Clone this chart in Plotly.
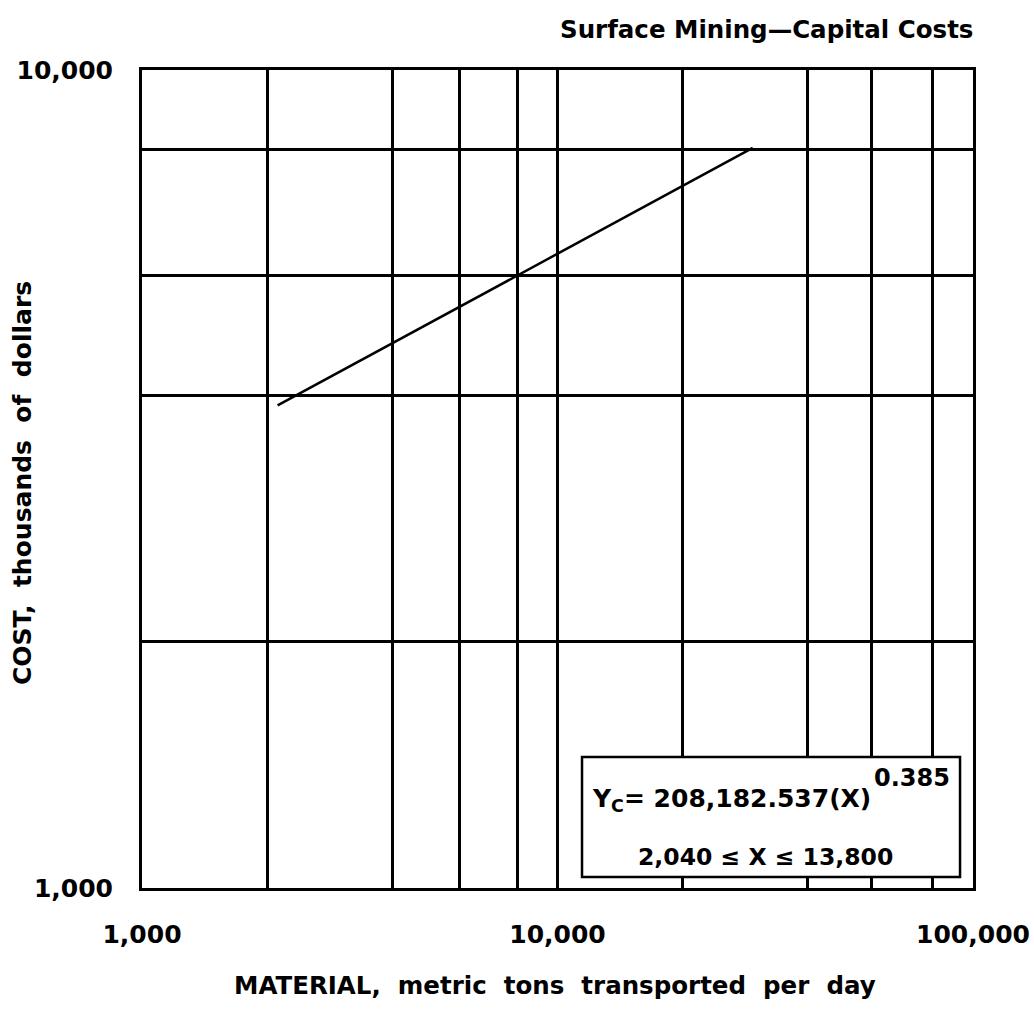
import plotly.graph_objects as go

# Capital cost curve for surface mining (material handled vs. cost)
material_tpd = [2120, 29500]          # metric tons transported per day
cost_thousands = [3890, 8030]         # thousands of dollars

# Axis ticks and grid values
x_major = [1000, 10000, 100000]
x_major_text = ["1,000", "10,000", "100,000"]
x_grid = [2000, 4000, 5800, 8000, 20000, 40000, 57000, 80000]

y_major = [1000, 10000]
y_major_text = ["1,000", "10,000"]
y_grid = [2000, 4000, 5600, 8000]

FONT = "DejaVu Sans"
INK = "black"


def bold(s):
    return "<b>" + s + "</b>"


fig = go.Figure()
fig.add_trace(go.Scatter(
    x=material_tpd, y=cost_thousands, mode="lines",
    line=dict(color=INK, width=2.5), showlegend=False, hoverinfo="skip",
))

axis_common = dict(
    type="log", automargin=False,
    showline=True, mirror=True, linecolor=INK, linewidth=3,
    showgrid=True, gridcolor=INK, gridwidth=2.5,
    zeroline=False,
    ticks="outside", tickcolor="rgba(0,0,0,0)",
    tickfont=dict(family=FONT, size=25, color=INK),
)

fig.update_xaxes(
    **axis_common, range=[3, 5],
    tickvals=x_major, ticktext=[bold(t) for t in x_major_text], ticklen=22,
    minor=dict(tickvals=x_grid, showgrid=True, gridcolor=INK, gridwidth=2.5,
               ticks=""),
)
fig.update_yaxes(
    **axis_common, range=[3, 4],
    tickvals=y_major, ticktext=[bold(t) for t in y_major_text], ticklen=21,
    minor=dict(tickvals=y_grid, showgrid=True, gridcolor=INK, gridwidth=2.5,
               ticks=""),
)

# Equation box
fig.add_shape(type="rect", xref="paper", yref="paper",
              x0=0.5295, x1=0.9844, y0=0.0135, y1=0.1601,
              line=dict(color=INK, width=2.5), fillcolor="white", layer="above")

annotations = [
    dict(text=bold("Surface Mining\u2014Capital Costs"), x=1.0024, y=1.049,
         xanchor="right", yanchor="middle", font=dict(size=24.5)),
    dict(text=bold("COST,  thousands  of  dollars"), x=-0.1444, y=0.495,
         textangle=-90, xanchor="center", yanchor="middle", font=dict(size=25)),
    dict(text=bold("MATERIAL,  metric  tons  transported  per  day"),
         x=0.497, y=-0.1186, xanchor="center", yanchor="middle",
         font=dict(size=24.5)),
    dict(text=bold("Y<sub>C</sub>= 208,182.537(X)"), x=0.539, y=0.1076,
         xanchor="left", yanchor="middle", font=dict(size=25)),
    dict(text=bold("0.385"), x=0.8785, y=0.1345,
         xanchor="left", yanchor="middle", font=dict(size=24)),
    dict(text=bold("2,040 \u2264 X \u2264 13,800"), x=0.7497, y=0.0379,
         xanchor="center", yanchor="middle", font=dict(size=23.5)),
]
for a in annotations:
    a.setdefault("font", {})
    a["font"].update(family=FONT, color=INK)
    fig.add_annotation(xref="paper", yref="paper", showarrow=False, **a)

fig.update_layout(
    width=1034, height=1010,
    margin=dict(l=142, r=61, t=70, b=122),
    paper_bgcolor="white", plot_bgcolor="white",
    showlegend=False,
)

fig.write_html("out.html")
